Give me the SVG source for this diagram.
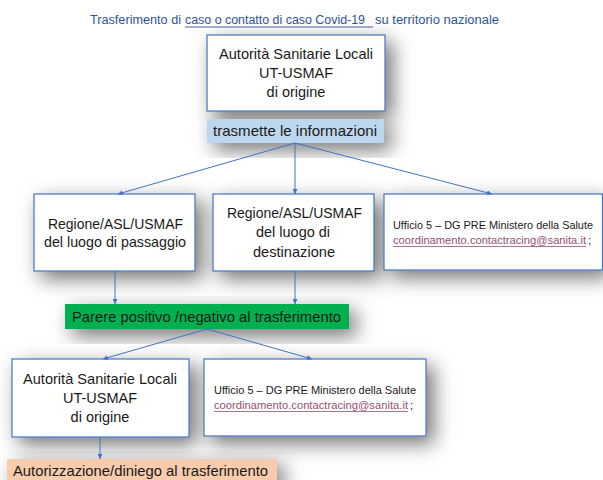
<svg xmlns="http://www.w3.org/2000/svg" width="603" height="480" viewBox="0 0 603 480">
<defs>
<filter id="sh" x="-40%" y="-60%" width="180%" height="220%">
<feGaussianBlur in="SourceAlpha" stdDeviation="10"/>
<feOffset dx="7" dy="7" result="b"/>
<feFlood flood-color="#000" flood-opacity="0.55"/>
<feComposite in2="b" operator="in" result="s"/>
<feMerge><feMergeNode in="s"/><feMergeNode in="SourceGraphic"/></feMerge>
</filter>
<marker id="ah" viewBox="0 0 10 10" refX="10" refY="5" markerWidth="5" markerHeight="5" orient="auto" markerUnits="userSpaceOnUse">
<path d="M0,0 L10,5 L0,10 z" fill="#4472c4"/>
</marker>
<style>
.box{fill:#fff;stroke:#4472c4;stroke-width:1.2;filter:url(#sh)}
.bar{filter:url(#sh)}
.t{font-family:"Liberation Sans",Arial,sans-serif;font-size:14.5px;fill:#1a1a1a}
.s{font-family:"Liberation Sans",Arial,sans-serif;font-size:11.2px;fill:#1a1a1a}
.m{font-family:"Liberation Sans",Arial,sans-serif;font-size:11.2px;fill:#954f72}
.ti{font-family:"Liberation Sans",Arial,sans-serif;font-size:12px;fill:#2f5496}
.c{text-anchor:middle}
.ln{stroke:#4472c4;stroke-width:1;fill:none;marker-end:url(#ah)}
</style>
</defs>
<rect width="603" height="480" fill="#fff"/>

<g id="title">
<text class="ti" x="90" y="24" textLength="91" lengthAdjust="spacingAndGlyphs">Trasferimento di</text>
<text class="ti" x="185" y="24" textLength="180" lengthAdjust="spacingAndGlyphs">caso o contatto di caso Covid-19</text>
<line x1="185" y1="27" x2="373" y2="27" stroke="#2f5496" stroke-width="0.9"/>
<text class="ti" x="375" y="24" textLength="124" lengthAdjust="spacingAndGlyphs">su territorio nazionale</text>
</g>

<g id="n_origin">
<rect class="box" x="207" y="35" width="178" height="76"/>
<text class="t" x="219" y="59" textLength="154" lengthAdjust="spacingAndGlyphs">Autorità Sanitarie Locali</text>
<text class="t c" x="296" y="78">UT-USMAF</text>
<text class="t c" x="296" y="97">di origine</text>
</g>

<g id="n_trasmette">
<rect class="bar" x="207" y="119" width="177" height="24" fill="#bdd7ee"/>
<text class="t" x="213" y="136" textLength="164" lengthAdjust="spacingAndGlyphs">trasmette le informazioni</text>
</g>

<g id="n_passaggio">
<rect class="box" x="34" y="194" width="161" height="77"/>
<text class="t" x="48" y="229" textLength="135" lengthAdjust="spacingAndGlyphs">Regione/ASL/USMAF</text>
<text class="t" x="44" y="247" textLength="142" lengthAdjust="spacingAndGlyphs">del luogo di passaggio</text>
</g>

<g id="n_destinazione">
<rect class="box" x="213" y="194" width="161" height="77"/>
<text class="t" x="227" y="218" textLength="135" lengthAdjust="spacingAndGlyphs">Regione/ASL/USMAF</text>
<text class="t" x="256" y="237" textLength="74" lengthAdjust="spacingAndGlyphs">del luogo di</text>
<text class="t" x="253" y="257" textLength="82" lengthAdjust="spacingAndGlyphs">destinazione</text>
</g>

<g id="n_ufficio1">
<rect class="box" x="384" y="194" width="218.5" height="76"/>
<text class="s" x="393" y="229" textLength="200" lengthAdjust="spacingAndGlyphs">Ufficio 5 – DG PRE Ministero della Salute</text>
<text class="m" x="393" y="244" textLength="193" lengthAdjust="spacingAndGlyphs">coordinamento.contactracing@sanita.it</text>
<line x1="393" y1="246.5" x2="586" y2="246.5" stroke="#954f72" stroke-width="0.8"/>
<text class="s" x="588" y="244">;</text>
</g>

<g id="n_parere">
<rect class="bar" x="65" y="304" width="284" height="25" fill="#00b050"/>
<text class="t" x="72" y="322" textLength="269" lengthAdjust="spacingAndGlyphs">Parere positivo /negativo al trasferimento</text>
</g>

<g id="n_origin2">
<rect class="box" x="12" y="359" width="177" height="78"/>
<text class="t" x="23" y="384" textLength="154" lengthAdjust="spacingAndGlyphs">Autorità Sanitarie Locali</text>
<text class="t c" x="100" y="403">UT-USMAF</text>
<text class="t c" x="100" y="422">di origine</text>
</g>

<g id="n_ufficio2">
<rect class="box" x="204" y="359" width="222" height="77"/>
<text class="s" x="214" y="394" textLength="202" lengthAdjust="spacingAndGlyphs">Ufficio 5 – DG PRE Ministero della Salute</text>
<text class="m" x="214" y="409" textLength="194" lengthAdjust="spacingAndGlyphs">coordinamento.contactracing@sanita.it</text>
<line x1="214" y1="411.5" x2="408" y2="411.5" stroke="#954f72" stroke-width="0.8"/>
<text class="s" x="410" y="409">;</text>
</g>

<g id="n_autorizzazione">
<rect class="bar" x="7" y="459" width="270" height="25" fill="#f8cbad"/>
<text class="t" x="13" y="476" textLength="255" lengthAdjust="spacingAndGlyphs">Autorizzazione/diniego al trasferimento</text>
</g>

<g id="connectors">
<line class="ln" x1="295" y1="143" x2="118" y2="194"/>
<line class="ln" x1="295" y1="143" x2="295" y2="194"/>
<line class="ln" x1="295" y1="143" x2="492" y2="194"/>
<line class="ln" x1="115" y1="271" x2="115" y2="304"/>
<line class="ln" x1="295" y1="271" x2="295" y2="304"/>
<line class="ln" x1="207" y1="329" x2="103" y2="359"/>
<line class="ln" x1="207" y1="329" x2="312" y2="359"/>
<line class="ln" x1="100" y1="437" x2="100" y2="459"/>
</g>
</svg>
